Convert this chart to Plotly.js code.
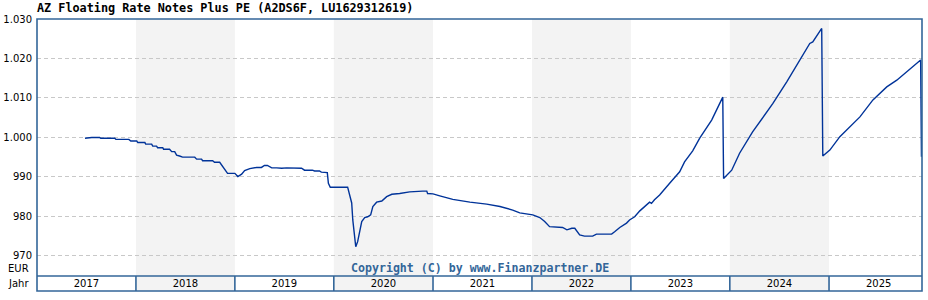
<!DOCTYPE html>
<html>
<head>
<meta charset="utf-8">
<script src="https://cdn.plot.ly/plotly-3.0.1.min.js"></script>
<style>
  html, body { margin: 0; padding: 0; background: #ffffff; }
  #chart { width: 928px; height: 300px; }
</style>
</head>
<body>
<div id="chart"></div>
<script>
// ---- data ----
const dates = [
  "2017-06-27","2017-07-22","2017-08-20","2017-08-24","2017-10-15","2017-10-19","2017-12-06","2017-12-13",
  "2018-01-04","2018-01-08","2018-02-03","2018-02-06","2018-02-28","2018-03-04","2018-03-18","2018-03-22",
  "2018-04-10","2018-04-13","2018-05-05","2018-05-13","2018-05-24","2018-05-31","2018-06-11","2018-06-22",
  "2018-08-06","2018-08-13","2018-08-31","2018-09-04","2018-10-11","2018-10-18","2018-11-06","2018-11-13",
  "2018-11-24","2018-12-05","2019-01-01","2019-01-12","2019-01-26","2019-02-06","2019-02-25","2019-03-22",
  "2019-04-09","2019-04-20","2019-05-01","2019-05-17","2019-06-04","2019-06-23","2019-07-11","2019-08-09",
  "2019-08-17","2019-09-04","2019-09-15","2019-10-14","2019-10-22","2019-11-09","2019-11-16","2019-12-08",
  "2019-12-12","2019-12-19","2020-02-21","2020-02-25","2020-03-07","2020-03-11","2020-03-18","2020-03-22",
  "2020-03-29","2020-04-06","2020-04-13","2020-04-24","2020-05-05","2020-05-16","2020-05-24","2020-06-07",
  "2020-06-26","2020-07-14","2020-08-02","2020-08-31","2020-10-07","2020-11-24","2020-12-09","2020-12-12",
  "2021-01-01","2021-01-26","2021-03-15","2021-05-17","2021-07-18","2021-09-05","2021-10-22","2021-11-17",
  "2022-01-04","2022-01-30","2022-02-17","2022-03-07","2022-04-02","2022-04-24","2022-05-10","2022-05-28",
  "2022-06-08","2022-06-26","2022-07-14","2022-08-13","2022-08-27","2022-09-08","2022-10-22","2022-11-02",
  "2022-11-21","2022-12-16","2022-12-27","2023-01-15","2023-02-03","2023-03-11","2023-03-18","2023-03-29",
  "2023-04-17","2023-05-24","2023-06-30","2023-07-18","2023-08-17","2023-09-12","2023-10-26","2023-12-06",
  "2023-12-09","2024-01-08","2024-02-06","2024-03-25","2024-06-08","2024-07-29","2024-09-15","2024-10-22",
  "2024-11-02","2024-12-05","2024-12-09","2025-01-04","2025-02-10","2025-03-30","2025-04-25","2025-06-12",
  "2025-08-02","2025-09-08","2025-10-15","2025-12-05","2025-12-08"
];
const prices = [
  999.8,1000.0,1000.0,999.8,999.8,999.5,999.5,999.1,
  999.1,998.7,998.7,998.3,998.3,997.8,997.8,997.4,
  997.4,997.0,997.0,996.4,996.4,995.5,995.3,995.0,
  995.0,994.5,994.5,994.1,994.1,993.7,993.7,993.0,
  991.9,990.9,990.9,990.1,990.7,991.6,992.1,992.4,
  992.4,992.9,992.9,992.3,992.3,992.2,992.3,992.3,
  992.2,992.2,991.7,991.7,991.5,991.5,991.2,991.1,
  988.4,987.4,987.4,986.5,983.4,979.1,974.9,972.3,
  973.6,976.6,978.7,979.7,979.9,980.4,982.5,983.6,
  983.9,985.0,985.6,985.8,986.2,986.4,986.4,985.8,
  985.7,985.2,984.3,983.6,983.1,982.5,981.6,980.9,
  980.4,979.7,978.7,977.4,977.2,977.2,976.6,977.0,
  977.0,975.3,975.0,975.0,975.5,975.5,975.5,976.1,
  977.2,978.3,979.1,979.9,981.4,983.6,983.3,984.2,
  985.4,988.4,991.3,993.8,996.6,999.8,1004.4,1010.2,
  989.6,991.7,996.0,1001.4,1008.6,1014.1,1019.6,1023.8,
  1024.2,1027.6,995.3,996.8,1000.2,1003.6,1005.2,1009.5,
  1012.8,1014.5,1016.6,1019.6,995.1
];
const years = [2017, 2018, 2019, 2020, 2021, 2022, 2023, 2024, 2025];
const shadedYears = [2018, 2020, 2022, 2024];
const yTickVals = [970, 980, 990, 1000, 1010, 1020, 1030];
const yTickText = ["970", "980", "990", "1.000", "1.010", "1.020", "1.030"];
const titleText = "AZ Floating Rate Notes Plus PE (A2DS6F, LU1629312619)";
const copyrightText = "Copyright (C) by www.Finanzpartner.DE";

// ---- styling ----
const frameColor = "#336699";
const lineColor = "#003399";
const shadeColor = "#f3f3f3";
const rowH = 15 / 257; // height of the year row below the plot, in paper units
const xEnd = "2025-12-10";

const shapes = [];
shadedYears.forEach(y => {
  shapes.push({
    type: "rect", xref: "x", yref: "paper", layer: "below",
    x0: y + "-01-01", x1: (y + 1) + "-01-01", y0: -rowH, y1: 1,
    fillcolor: shadeColor, line: { width: 0 }
  });
});
years.slice(1).forEach(y => {
  shapes.push({
    type: "line", xref: "x", yref: "paper", layer: "above",
    x0: y + "-01-01", x1: y + "-01-01", y0: -rowH, y1: 0,
    line: { color: frameColor, width: 1.6 }
  });
});
shapes.push({
  type: "rect", xref: "paper", yref: "paper", layer: "above",
  x0: 0, x1: 1, y0: -rowH, y1: 1,
  line: { color: frameColor, width: 1.6 }, fillcolor: "rgba(0,0,0,0)"
});
shapes.push({
  type: "line", xref: "paper", yref: "paper", layer: "above",
  x0: 0, x1: 1, y0: 0, y1: 0,
  line: { color: frameColor, width: 1.6 }
});

const trace = {
  type: "scatter", mode: "lines",
  x: dates, y: prices,
  line: { color: lineColor, width: 1.4 },
  hoverinfo: "skip"
};

const layout = {
  width: 928, height: 300,
  margin: { l: 37, r: 6, t: 19, b: 24, pad: 0 },
  paper_bgcolor: "#ffffff",
  plot_bgcolor: "rgba(0,0,0,0)",
  showlegend: false,
  title: {
    text: "<b>" + titleText + "</b>",
    font: { family: "DejaVu Sans Mono", size: 11.8, color: "#000000" },
    xref: "paper", x: 0, xanchor: "left",
    yref: "container", y: 1 - 8 / 300, yanchor: "middle"
  },
  xaxis: {
    type: "date",
    range: ["2017-01-01", xEnd],
    tick0: "2017-01-01", dtick: "M12",
    ticklabelmode: "period", tickformat: "%Y",
    ticks: "", showgrid: false, zeroline: false,
    showline: false,
    tickfont: { family: "DejaVu Sans", size: 10, color: "#000000" },
    ticklabelstandoff: 0,
    fixedrange: true
  },
  yaxis: {
    range: [964.9, 1030],
    tickvals: yTickVals, ticktext: yTickText,
    ticks: "", showgrid: true, gridcolor: "#c8c8c8", griddash: "4px,3px", gridwidth: 1,
    zeroline: false, showline: false,
    tickfont: { family: "DejaVu Sans", size: 10, color: "#000000" },
    ticklabelstandoff: 4,
    fixedrange: true
  },
  shapes: shapes,
  annotations: [
    {
      text: "<b>" + copyrightText + "</b>", xref: "paper", yref: "paper",
      x: 0.5, y: 8 / 257, xanchor: "center", yanchor: "middle", showarrow: false,
      font: { family: "DejaVu Sans Mono", size: 11.6, color: frameColor }
    },
    {
      text: "EUR", xref: "paper", yref: "paper", x: 0, xshift: -6,
      y: 8 / 257, xanchor: "right", yanchor: "middle", showarrow: false,
      font: { family: "DejaVu Sans", size: 10, color: "#000000" }
    },
    {
      text: "Jahr", xref: "paper", yref: "paper", x: 0, xshift: -6,
      y: -7.5 / 257, xanchor: "right", yanchor: "middle", showarrow: false,
      font: { family: "DejaVu Sans", size: 10, color: "#000000" }
    }
  ]
};

Plotly.newPlot("chart", [trace], layout, { staticPlot: true, displayModeBar: false });
</script>
</body>
</html>
